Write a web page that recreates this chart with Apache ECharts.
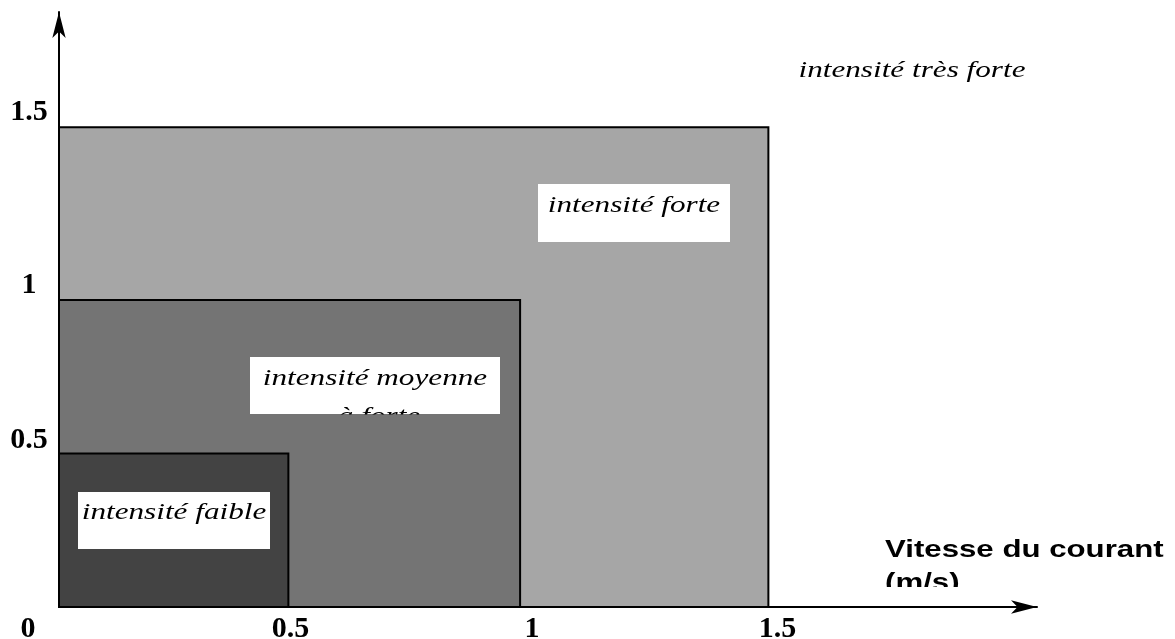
<!DOCTYPE html>
<html>
<head>
<meta charset="utf-8">
<script src="https://cdn.jsdelivr.net/npm/echarts@6/dist/echarts.min.js"></script>
<style>
  html, body { margin: 0; padding: 0; background: #fff; }
  #main { width: 1175px; height: 639px; }
</style>
</head>
<body>
<div id="main"></div>
<script>
// zones, drawn from the largest to the smallest
var zoneNames = ['intensité forte', 'intensité moyenne à forte', 'intensité faible'];
var zoneSpeed = [1.5, 0.975, 0.485];   // vitesse du courant (m/s), x end
var zoneHeight = [1.5, 0.96, 0.48];    // y end
var zoneColors = ['#a6a6a6', '#747474', '#434343'];
var tickValues = [0, 0.5, 1, 1.5];

var dom = document.getElementById('main');
var myChart = echarts.init(dom);

var rectData = [];
for (var i = 0; i < zoneNames.length; i++) {
  rectData.push({ name: zoneNames[i], value: [zoneSpeed[i], zoneHeight[i]] });
}

var serif = '"Liberation Serif", "Times New Roman", serif';
var sans = '"Liberation Sans", Arial, sans-serif';

function tickStyle(pad) {
  return { fontFamily: serif, fontWeight: 'bold', fontSize: 30, color: '#000', padding: pad };
}
function labelText(x, y, txt, z) {
  return {
    type: 'text', x: x, y: y, z: z || 10, scaleX: 1.3,
    style: { text: txt, font: 'italic 24px ' + serif, fill: '#000', align: 'center', verticalAlign: 'middle' }
  };
}
function whiteBox(x, y, w, h) {
  return { type: 'rect', z: 9, shape: { x: x, y: y, width: w, height: h }, style: { fill: '#fff' } };
}

var option = {
  animation: false,
  backgroundColor: '#fff',
  grid: { left: 59, right: 138, top: 12, bottom: 32, containLabel: false, outerBoundsMode: 'none' },
  xAxis: {
    type: 'value', min: 0, max: 2.068, interval: 0.5,
    splitLine: { show: false },
    axisTick: { show: false },
    axisLine: { show: true, lineStyle: { color: '#000', width: 2 }, symbol: ['none', 'arrow'], symbolSize: [10, 26] },
    axisLabel: {
      margin: 7,
      formatter: function (v) {
        if (tickValues.indexOf(v) < 0) return '';
        if (v === 0) return '{z|0}';
        if (v === 0.5) return '{h|0.5}';
        if (v === 1.5) return '{r|1.5}';
        return '{n|' + v + '}';
      },
      rich: {
        z: tickStyle([0, 62, 0, 0]),
        h: tickStyle([0, 10, 0, 0]),
        r: tickStyle([0, 0, 0, 18]),
        n: tickStyle([0, 0, 0, 0])
      }
    }
  },
  yAxis: {
    type: 'value', min: 0, max: 1.86, interval: 0.5,
    splitLine: { show: false },
    axisTick: { show: false },
    axisLine: { show: true, lineStyle: { color: '#000', width: 2 }, symbol: ['none', 'arrow'], symbolSize: [10, 26] },
    axisLabel: {
      margin: 30, align: 'center',
      formatter: function (v) {
        if (v === 0 || tickValues.indexOf(v) < 0) return '';
        if (v === 0.5) return '{a|0.5}';
        if (v === 1) return '{b|1}';
        return '{c|1.5}';
      },
      rich: {
        a: tickStyle([0, 0, 14, 0]),
        b: tickStyle([0, 0, 4, 0]),
        c: tickStyle([0, 0, 30, 0])
      }
    }
  },
  series: [{
    type: 'custom',
    clip: false,
    encode: { x: 0, y: 1 },
    data: rectData,
    renderItem: function (params, api) {
      var p0 = api.coord([0, 0]);
      var p1 = api.coord([api.value(0), api.value(1)]);
      return {
        type: 'rect',
        shape: { x: p0[0], y: p1[1], width: p1[0] - p0[0], height: p0[1] - p1[1] },
        style: { fill: zoneColors[params.dataIndex], stroke: '#000', lineWidth: 2 }
      };
    }
  }],
  graphic: [
    labelText(912, 71, 'intensité très forte'),
    whiteBox(538, 184, 192, 58),
    labelText(634, 206, 'intensité forte'),
    whiteBox(250, 357, 250, 57),
    labelText(375, 379, 'intensité moyenne'),
    labelText(379, 417, 'à forte'),
    { type: 'rect', z: 11, shape: { x: 250, y: 414.5, width: 250, height: 20 }, style: { fill: zoneColors[1] } },
    whiteBox(78, 492, 192, 57),
    labelText(174, 513, 'intensité faible'),
    {
      type: 'text', x: 885, y: 550, z: 10, scaleX: 1.3,
      style: { text: 'Vitesse du courant', font: 'bold 24px ' + sans, fill: '#000', align: 'left', verticalAlign: 'middle' }
    },
    {
      type: 'text', x: 885, y: 583, z: 10, scaleX: 1.3,
      style: { text: '(m/s)', font: 'bold 24px ' + sans, fill: '#000', align: 'left', verticalAlign: 'middle' }
    },
    { type: 'rect', z: 11, shape: { x: 878, y: 587, width: 100, height: 16 }, style: { fill: '#fff' } }
  ]
};

myChart.setOption(option, true);
</script>
</body>
</html>
